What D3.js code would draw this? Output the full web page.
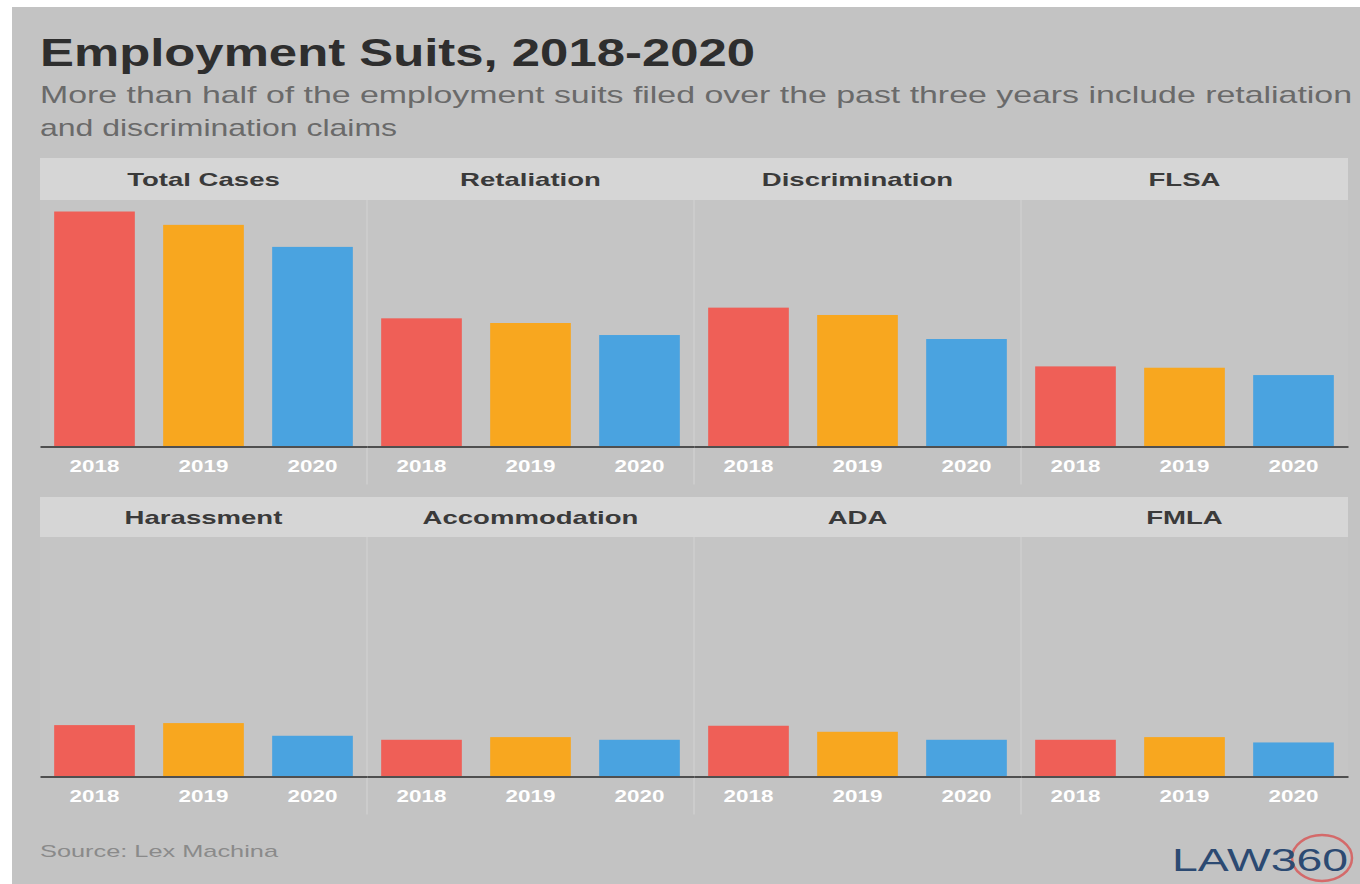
<!DOCTYPE html>
<html><head><meta charset="utf-8">
<script src="https://cdn.jsdelivr.net/npm/d3@7"></script>
<style>html,body{margin:0;padding:0;background:#fff;} svg{display:block;}</style>
</head><body>
<svg id="chart" width="1360" height="884"></svg>
<script>
// ---------- data ----------
const categories = ["Total Cases", "Retaliation", "Discrimination", "FLSA",
                    "Harassment", "Accommodation", "ADA", "FMLA"];
const years = ["2018", "2019", "2020"];
const cases2018 = [17600, 9600, 10400, 6000, 3850, 2750, 3800, 2750];
const cases2019 = [16600, 9250, 9850, 5900, 4000, 2950, 3350, 2950];
const cases2020 = [14950, 8350, 8050, 5350, 3050, 2750, 2750, 2550];
const yearColors = ["#ef5f57", "#f8a71f", "#4aa3e0"];
const titleText = "Employment Suits, 2018-2020";
const subtitleLines = ["More than half of the employment suits filed over the past three years include retaliation",
                       "and discrimination claims"];
const sourceText = "Source: Lex Machina";

// ---------- layout ----------
const W = 1360, H = 884;
const FONT = "'Liberation Sans', Arial, sans-serif";
const svg = d3.select("#chart");
svg.append("rect").attr("width", W).attr("height", H).attr("fill", "#ffffff");
svg.append("rect").attr("x", 12).attr("y", 7).attr("width", W - 12).attr("height", H - 7).attr("fill", "#c3c3c3");

function stretch(sel, k) {
  sel.each(function () {
    const w = this.getComputedTextLength();
    d3.select(this).attr("textLength", w * k).attr("lengthAdjust", "spacingAndGlyphs");
  });
}

// title / subtitle
svg.append("text").attr("x", 40).attr("y", 66).text(titleText)
  .attr("font-family", FONT).attr("font-weight", "bold").attr("font-size", 38).attr("fill", "#2e2e2e")
  .attr("textLength", 715).attr("lengthAdjust", "spacingAndGlyphs");
svg.append("text").attr("x", 40).attr("y", 103).text(subtitleLines[0])
  .attr("font-family", FONT).attr("font-size", 24).attr("fill", "#6a6a6a")
  .attr("textLength", 1312).attr("lengthAdjust", "spacingAndGlyphs");
svg.append("text").attr("x", 40).attr("y", 136).text(subtitleLines[1])
  .attr("font-family", FONT).attr("font-size", 24).attr("fill", "#6a6a6a")
  .attr("textLength", 357).attr("lengthAdjust", "spacingAndGlyphs");

const series = [cases2018, cases2019, cases2020];
const rows = [
  { hTop: 158, hBot: 200, base: 446.5 },
  { hTop: 497, hBot: 537, base: 776.5 }
];
const panelX = d3.scaleBand().domain(d3.range(4)).range([40, 1348]);
const barX = d3.scaleBand().domain(years).range([0, panelX.bandwidth()])
  .paddingInner(0.26).paddingOuter(0.13);
const y = d3.scaleLinear().domain([0, 18500]).range([247, 0]);
const color = d3.scaleOrdinal().domain(years).range(yearColors);

// panel backgrounds, headers and separators first
categories.forEach((cat, i) => {
  const r = rows[Math.floor(i / 4)];
  const col = i % 4;
  const g = svg.append("g").attr("transform", `translate(${panelX(col)},0)`);
  g.append("rect").attr("x", 0).attr("y", r.hBot).attr("width", panelX.bandwidth())
    .attr("height", r.base - r.hBot).attr("fill", "#c5c5c5");
  g.append("rect").attr("x", 0).attr("y", r.hTop).attr("width", panelX.bandwidth())
    .attr("height", r.hBot - r.hTop).attr("fill", "#d6d6d6");
  g.append("text").attr("x", panelX.bandwidth() / 2).attr("y", (r.hTop + r.hBot) / 2 + 7)
    .attr("text-anchor", "middle").text(cat)
    .attr("font-family", FONT).attr("font-weight", "bold").attr("font-size", 19).attr("fill", "#3a3a3a")
    .call(stretch, 1.45);
  if (col > 0) {
    g.append("line").attr("x1", 0).attr("x2", 0).attr("y1", r.hBot).attr("y2", r.base + 38)
      .attr("stroke", "#cccccc").attr("stroke-width", 2);
  }
});

// bars and axes
categories.forEach((cat, i) => {
  const r = rows[Math.floor(i / 4)];
  const col = i % 4;
  const g = svg.append("g").attr("transform", `translate(${panelX(col)},0)`);
  const vals = years.map((yr, j) => ({ year: yr, value: series[j][i] }));
  g.selectAll("rect.bar").data(vals).join("rect").attr("class", "bar")
    .attr("x", d => barX(d.year)).attr("width", barX.bandwidth())
    .attr("y", d => r.base - 247 + y(d.value)).attr("height", d => 247 - y(d.value))
    .attr("fill", d => color(d.year));
  const ax = g.append("g").attr("transform", `translate(0,${r.base})`)
    .call(d3.axisBottom(barX).tickSize(0).tickPadding(14));
  ax.select(".domain").attr("stroke", "#4f4f4f").attr("stroke-width", 2);
  ax.selectAll("text").attr("font-family", FONT).attr("font-weight", "bold")
    .attr("font-size", 16).attr("fill", "#ffffff").call(stretch, 1.4);
});

// source
svg.append("text").attr("x", 40).attr("y", 857).text(sourceText)
  .attr("font-family", FONT).attr("font-size", 17).attr("fill", "#8a8a8a")
  .attr("textLength", 238).attr("lengthAdjust", "spacingAndGlyphs");

// logo
const logo = svg.append("g");
logo.append("ellipse").attr("cx", 1322).attr("cy", 858).attr("rx", 30).attr("ry", 23)
  .attr("fill", "none").attr("stroke", "#d46a6a").attr("stroke-width", 2.5);
const lt = logo.append("text").attr("x", 1172).attr("y", 871)
  .attr("font-family", FONT).attr("font-size", 32).attr("fill", "#2c4a72")
  .attr("textLength", 176).attr("lengthAdjust", "spacingAndGlyphs");
lt.append("tspan").text("LAW");
lt.append("tspan").text("360");
</script>
</body></html>
